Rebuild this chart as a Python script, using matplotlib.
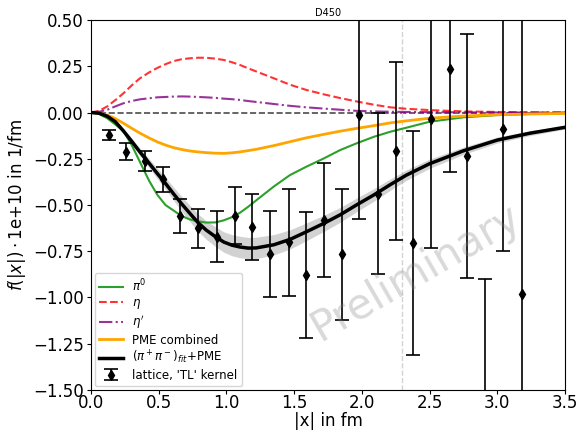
import numpy as np
import matplotlib
matplotlib.use('Agg')
import matplotlib.pyplot as plt

# curve samples
xs = [0, 0.06, 0.12, 0.18, 0.24, 0.30, 0.36, 0.43, 0.49, 0.55, 0.61, 0.67, 0.73, 0.79,
      0.85, 0.92, 0.98, 1.04, 1.10, 1.16, 1.22, 1.35, 1.47, 1.59, 1.72, 1.84, 1.96, 2.09,
      2.21, 2.33, 2.50, 2.75, 3.00, 3.24, 3.50]
pi0 = [0, -0.008, -0.031, -0.065, -0.100, -0.175, -0.265, -0.37, -0.445, -0.50, -0.53,
       -0.56, -0.578, -0.588, -0.595, -0.594, -0.583, -0.566, -0.542, -0.51, -0.475, -0.40,
       -0.338, -0.293, -0.248, -0.203, -0.167, -0.131, -0.104, -0.082, -0.05, -0.026, -0.014,
       -0.008, -0.004]
eta = [0, 0.009, 0.033, 0.067, 0.104, 0.146, 0.184, 0.217, 0.241, 0.261, 0.278, 0.288,
       0.293, 0.296, 0.296, 0.291, 0.284, 0.272, 0.257, 0.239, 0.222, 0.185, 0.15, 0.122,
       0.098, 0.078, 0.06, 0.042, 0.028, 0.02, 0.013, 0.006, 0.003, 0.001, 0.0]
etap = [0, 0.004, 0.015, 0.033, 0.05, 0.062, 0.071, 0.077, 0.082, 0.084, 0.086, 0.087,
        0.086, 0.084, 0.082, 0.079, 0.075, 0.072, 0.068, 0.062, 0.057, 0.046, 0.036, 0.028,
        0.021, 0.015, 0.009, 0.006, 0.004, 0.003, 0.002, 0.001, 0.0, 0.0, 0.0]
pme = [0, -0.003, -0.014, -0.033, -0.058, -0.085, -0.111, -0.138, -0.159, -0.176, -0.19,
       -0.2, -0.208, -0.213, -0.217, -0.22, -0.221, -0.218, -0.213, -0.206, -0.199, -0.179,
       -0.158, -0.137, -0.118, -0.101, -0.086, -0.071, -0.056, -0.045, -0.031, -0.019,
       -0.012, -0.008, -0.005]
fit = [0, -0.004, -0.02, -0.05, -0.1, -0.155, -0.212, -0.275, -0.33, -0.383, -0.44, -0.494,
       -0.545, -0.595, -0.635, -0.672, -0.70, -0.717, -0.727, -0.733, -0.732, -0.715, -0.686,
       -0.645, -0.599, -0.553, -0.50, -0.445, -0.39, -0.338, -0.277, -0.207, -0.149, -0.112,
       -0.08]
fit_err = [0, 0.001, 0.004, 0.008, 0.012, 0.016, 0.02, 0.024, 0.028, 0.032, 0.036, 0.04,
           0.044, 0.047, 0.05, 0.053, 0.055, 0.057, 0.058, 0.058, 0.058, 0.055, 0.052, 0.048,
           0.044, 0.04, 0.037, 0.034, 0.031, 0.028, 0.025, 0.02, 0.016, 0.013, 0.01]

# lattice data
x_lat = [0.13, 0.26, 0.40, 0.53, 0.66, 0.79, 0.93, 1.06, 1.19, 1.32, 1.46, 1.59,
         1.72, 1.85, 1.98, 2.12, 2.25, 2.38, 2.51, 2.65, 2.78, 2.91, 3.04, 3.18]
y_lat = [-0.122, -0.212, -0.262, -0.36, -0.559, -0.626, -0.671, -0.558, -0.617, -0.765,
         -0.702, -0.878, -0.581, -0.765, -0.014, -0.44, -0.207, -0.705, -0.035, 0.233,
         -0.237, -1.65, -0.091, -0.979]
e_lat = [0.027, 0.045, 0.052, 0.068, 0.092, 0.105, 0.138, 0.153, 0.178, 0.232, 0.29, 0.34,
         0.31, 0.354, 0.56, 0.435, 0.48, 0.605, 0.70, 0.553, 0.66, 0.75, 0.66, 1.6]

fit_lo = np.array(fit) - np.array(fit_err)
fit_hi = np.array(fit) + np.array(fit_err)

fig = plt.figure(figsize=(5.78, 4.34), dpi=100)
ax = fig.add_axes([0.1574, 0.1014, 0.8201, 0.8525])

ax.axhline(0, color='k', ls='--', lw=1.2, alpha=0.7, zorder=1)
ax.axvline(2.3, color='lightgray', ls='--', lw=1, zorder=1)

ax.plot(xs, pi0, color='tab:green', lw=1.5, label=r'$\pi^0$')
ax.plot(xs, eta, color='red', ls='--', lw=1.5, alpha=0.8, label=r'$\eta$')
ax.plot(xs, etap, color='purple', ls='-.', lw=1.5, alpha=0.8, label=r"$\eta'$")
ax.plot(xs, pme, color='orange', lw=2, label='PME combined')
ax.fill_between(xs, fit_lo, fit_hi, color='gray', alpha=0.35, lw=0)
ax.plot(xs, fit, color='k', lw=2.5, label=r'$(\pi^+\pi^-)_{fit}$+PME')
ax.errorbar(x_lat, y_lat, yerr=e_lat, fmt='d', color='k', ms=5, capsize=5,
            elinewidth=1.2, capthick=1.2, label="lattice, 'TL' kernel")

ax.set_xlim(0, 3.5)
ax.set_ylim(-1.5, 0.5)
ax.set_yticks([-1.5, -1.25, -1.0, -0.75, -0.5, -0.25, 0.0, 0.25, 0.5])
ax.tick_params(axis='both', labelsize=12, length=3)
ax.tick_params(axis='x', pad=0)
ax.tick_params(axis='y', pad=2)

ax.set_title('D450', fontsize=7, pad=3)
ax.set_xlabel('|x| in fm', fontsize=12, labelpad=0)
ax.set_ylabel(r'$f(|x|) \cdot$1e+10 in 1/fm', fontsize=12)

ax.text(0.685, 0.32, 'Preliminary', transform=ax.transAxes, fontsize=30,
        color='gray', alpha=0.3, rotation=30, ha='center', va='center')

ax.legend(loc='lower left', fontsize=8.5, labelspacing=0.2, borderaxespad=0.3)

fig.savefig('out.png', dpi=100)
